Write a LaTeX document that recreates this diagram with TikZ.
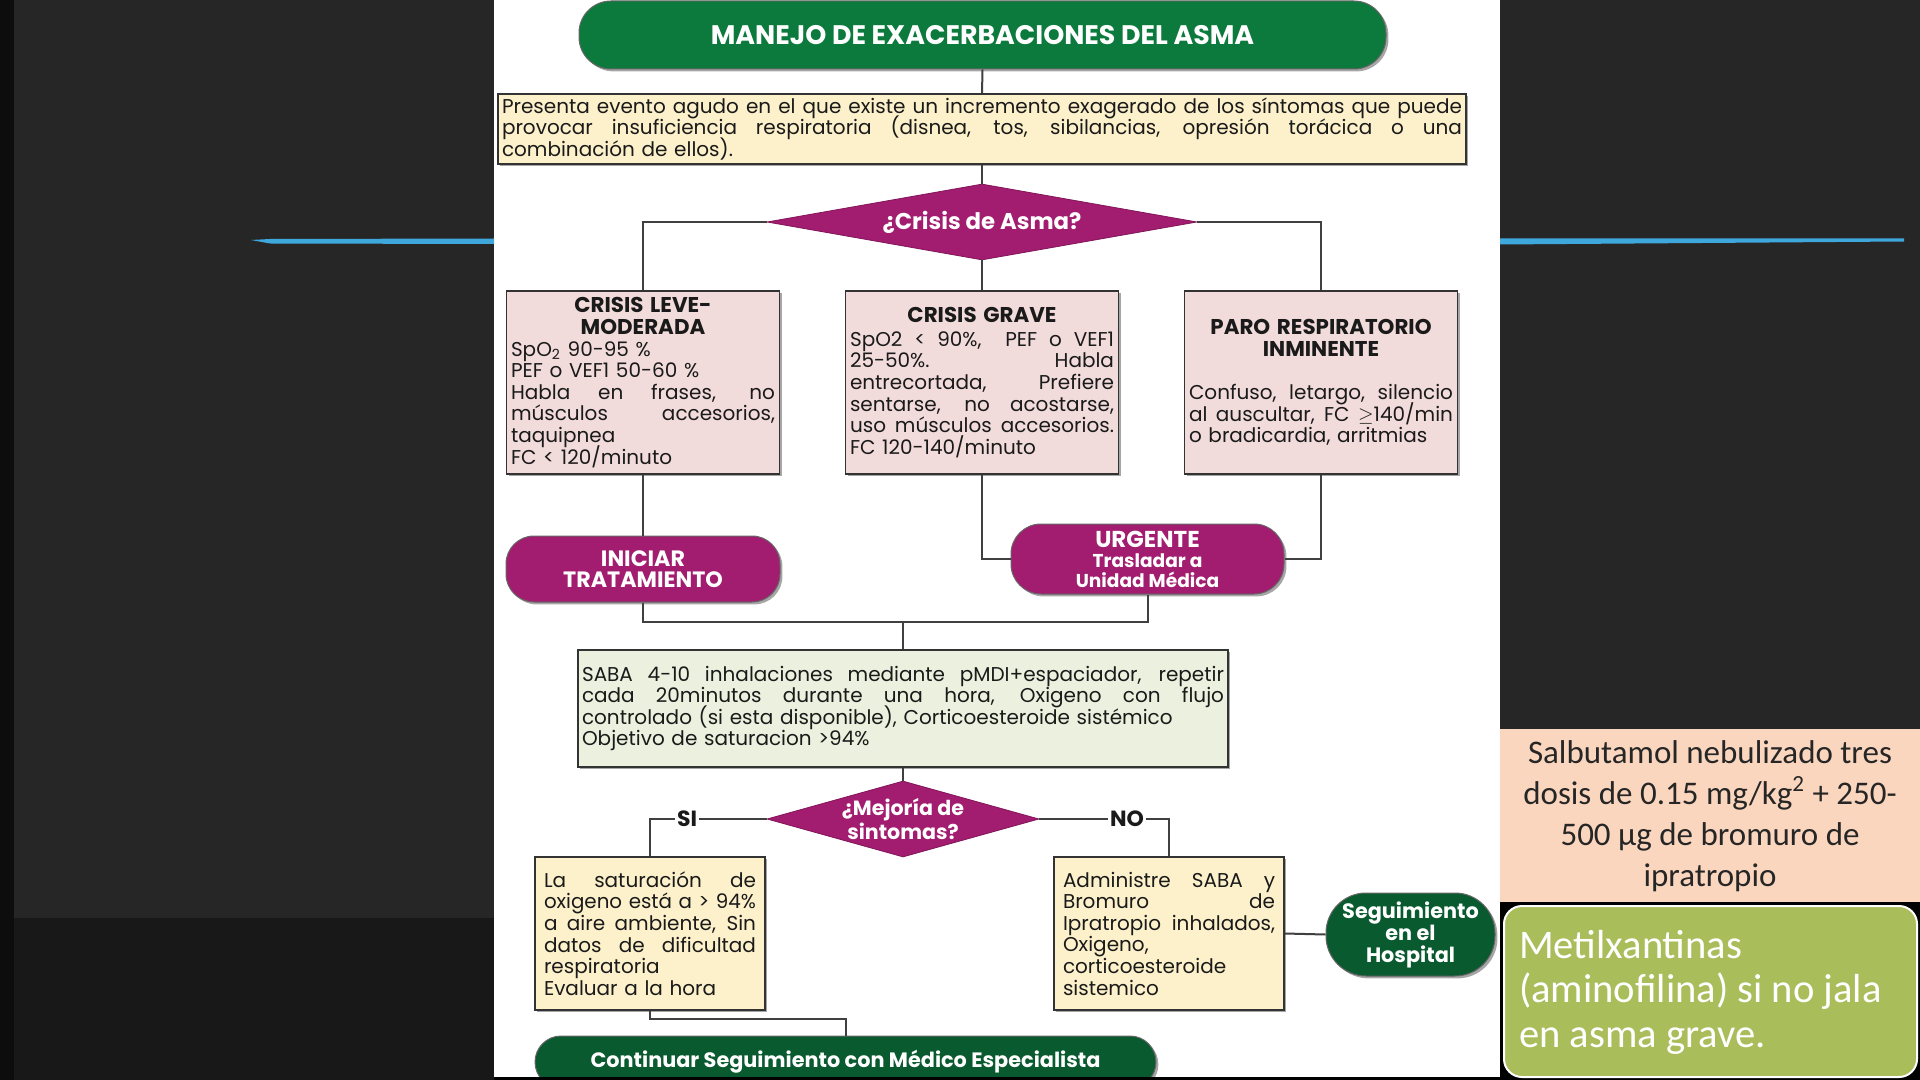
\documentclass[tikz,border=0pt]{standalone}
\usepackage{fontspec}
\setmainfont{Poppins}
\newfontfamily\carlito{Carlito}
\usepackage{graphicx}
\usetikzlibrary{shapes.geometric,shadows}
\definecolor{bgdark}{HTML}{262626}
\definecolor{bgdarker}{HTML}{181818}
\definecolor{gtitle}{HTML}{0B7A3C}
\definecolor{gdark}{HTML}{0A5A30}
\definecolor{purp}{HTML}{A21C6F}
\definecolor{pinkbox}{HTML}{F2DCDB}
\definecolor{creambox}{HTML}{FDF1CB}
\definecolor{sababox}{HTML}{EBF1DE}
\definecolor{salmon}{HTML}{FAD6BE}
\definecolor{olive}{HTML}{A9BD5B}
\definecolor{skyb}{HTML}{3EA8DC}
\definecolor{linec}{HTML}{404040}
\definecolor{txt}{HTML}{1A1A1A}
\newlength\jw
\newcommand\jl[1]{\setbox0\hbox{#1}\ifdim\wd0>\jw\leavevmode\resizebox{\jw}{\height}{#1}\else\leavevmode\hbox to\jw{\spaceskip=\fontdimen2\font plus 1fil\relax\xspaceskip=\spaceskip\relax #1}\fi}
\newcommand\ctl[1]{\leavevmode\hbox to\jw{\hfil#1\hfil}}
\newcommand\titf{\bfseries\fontsize{10.7}{10.8}\selectfont}
\newcommand\tightls{\lineskiplimit=-30pt\lineskip=0pt\relax}
\begin{document}
\begin{tikzpicture}[x=0.5pt,y=-0.5pt,
  conn/.style={draw=linec,line width=1pt},
  shad/.style={drop shadow={shadow xshift=1.2pt,shadow yshift=-1.2pt,opacity=0.35,fill=black}},
  boxb/.style={shad,rectangle,draw=black!80,line width=0.7pt,inner ysep=0pt,text=txt,align=left,font=\fontsize{10}{10.8}\selectfont\tightls},
  pinkb/.style={boxb,fill=pinkbox,text width=132pt,inner xsep=2.3pt,minimum height=91.5pt,execute at begin node={\setlength\jw{132pt}\tightls}},
  introb/.style={boxb,fill=creambox,text width=480pt,inner xsep=2pt,minimum height=35pt,execute at begin node={\setlength\jw{480pt}\tightls}},
  sabab/.style={boxb,fill=sababox,text width=321pt,inner xsep=2pt,minimum height=58.5pt,execute at begin node={\setlength\jw{321pt}\tightls}},
  smallb/.style={boxb,fill=creambox,text width=106pt,inner xsep=4.5pt,minimum height=76.5pt,execute at begin node={\setlength\jw{106pt}\tightls}},
  pillb/.style={shad,rectangle,draw=black!60,line width=0.5pt,text=white,align=center,inner sep=0pt},
  diab/.style={diamond,fill=purp,draw=purp!80!black,line width=0.4pt,inner sep=0pt},
  dtext/.style={text=white,align=center,font=\bfseries},
  lab/.style={fill=white,inner sep=1pt,font=\bfseries\fontsize{11}{12}\selectfont,text=txt}
]
\useasboundingbox (0,0) rectangle (1920,1080);
% background
\fill[bgdark] (0,0) rectangle (1920,1080);
\fill[bgdarker] (0,918) rectangle (494,1080);
\fill[black!95] (0,0) rectangle (14,1080);
\fill[white] (494,0) rectangle (1500,1077);
\fill[salmon] (1500,729) rectangle (1920,902);
\fill[black] (1500,902) rectangle (1920,1080);
\filldraw[fill=olive,draw=white,line width=1pt,rounded corners=9pt] (1504,906) rectangle (1917,1077);
\fill[skyb] (251,240) -- (270,239) -- (494,238.5) -- (494,244) -- (270,243.5) -- cycle;
\fill[skyb] (1500,238.5) -- (1904,238.5) -- (1904,241.5) -- (1500,244.5) -- cycle;

% nodes
\node[pillb,fill=gtitle,minimum width=403.5pt,minimum height=34pt,rounded corners=16pt,font=\bfseries\fontsize{13.4}{15}\selectfont] (t) at (982.5,35) {MANEJO DE EXACERBACIONES DEL ASMA};

\node[introb] (intro) at (982,129) {%
\jl{Presenta evento agudo en el que existe un incremento exagerado de los síntomas que puede}\\
\jl{provocar insuficiencia respiratoria (disnea, tos, sibilancias, opresión torácica o una}\\
combinación de ellos).};

\node[diab,minimum width=215pt,minimum height=38pt,shape aspect=5.66] (d1) at (982,222) {};
\node[dtext,font=\bfseries\fontsize{11.4}{12}\selectfont] (d1t) at (d1) {¿Crisis de Asma?};

\node[pinkb] (b1) at (643,382.5) {%
\ctl{\titf CRISIS LEVE-}\\
\ctl{\titf MODERADA}\\
SpO\textsubscript{2} 90-95 \%\\
PEF o VEF1 50-60 \%\\
\jl{Habla en frases, no}\\
\jl{músculos accesorios,}\\
taquipnea\\
FC < 120/minuto};

\node[pinkb] (b2) at (982,382.5) {%
\ctl{\titf CRISIS GRAVE}\\[1pt]
\jl{SpO2 < 90\%,\ \ PEF o VEF1}\\
\jl{25-50\%. Habla}\\
\jl{entrecortada, Prefiere}\\
\jl{sentarse, no acostarse,}\\
\jl{uso músculos accesorios.}\\
FC 120-140/minuto};

\node[pinkb] (b3) at (1321,382.5) {%
\ctl{\titf PARO RESPIRATORIO}\\
\ctl{\titf INMINENTE}\\[10.8pt]
\jl{Confuso, letargo, silencio}\\
\jl{al auscultar, FC $\geq$140/min}\\
o bradicardia, arritmias};

\node[pillb,fill=purp,minimum width=137pt,minimum height=33pt,rounded corners=14pt,font=\bfseries\fontsize{11.1}{10.5}\selectfont] (p1) at (643,569) {INICIAR\\TRATAMIENTO};

\node[pillb,fill=purp,minimum width=136.5pt,minimum height=35pt,rounded corners=15pt,font=\bfseries\fontsize{9.3}{10}\selectfont] (p2) at (1147.5,559) {{\fontsize{11.5}{10}\selectfont URGENTE}\\Trasladar a\\Unidad Médica};

\coordinate (j) at (903,622);

\node[sabab] (saba) at (903,708.5) {%
\jl{SABA 4-10 inhalaciones mediante pMDI+espaciador, repetir}\\
\jl{cada 20minutos durante una hora, Oxigeno con flujo}\\
controlado (si esta disponible), Corticoesteroide sistémico\\
Objetivo de saturacion >94\%};

\node[diab,minimum width=136pt,minimum height=38pt,shape aspect=3.58] (d2) at (903,819) {};
\node[dtext,font=\bfseries\fontsize{10.3}{10.5}\selectfont] (d2t) at (d2) {¿Mejoría de\\sintomas?};

\node[smallb] (si) at (650,933.5) {%
\jl{La saturación de}\\
\jl{oxigeno está a > 94\%}\\
\jl{a aire ambiente, Sin}\\
\jl{datos de dificultad}\\
respiratoria\\
Evaluar a la hora};

\node[smallb] (no) at (1169,933.5) {%
\jl{Administre SABA y}\\
\jl{Bromuro de}\\
\jl{Ipratropio inhalados,}\\
Oxigeno,\\
corticoesteroide\\
sistemico};

\node[pillb,fill=gdark,minimum width=84.5pt,minimum height=41.5pt,rounded corners=20pt,font=\bfseries\fontsize{10.4}{11}\selectfont] (seg) at (1410.5,934.5) {Seguimiento\\en el\\Hospital};

\coordinate (k) at (845.5,1019);
\node[pillb,fill=gdark,minimum width=310.5pt,minimum height=26pt,rounded corners=13pt,font=\bfseries\fontsize{10.4}{11}\selectfont] (bot) at (845.5,1062) {Continuar Seguimiento con Médico Especialista};

% connectors
\draw[conn] (t.south) -- (intro.north);
\draw[conn] (intro.south) -- (d1.north);
\draw[conn] (d1.west) -| (b1.north);
\draw[conn] (d1.east) -| (b3.north);
\draw[conn] (d1.south) -- (b2.north);
\draw[conn] (b1.south) -- (p1.north);
\draw[conn] (b2.south) |- (p2.west);
\draw[conn] (b3.south) |- (p2.east);
\draw[conn] (p1.south) |- (j) -| (p2.south);
\draw[conn] (j) -- (saba.north);
\draw[conn] (saba.south) -- (d2.north);
\draw[conn] (d2.west) -| (si.north);
\draw[conn] (d2.east) -| (no.north);
\node[lab] (lsi) at (687,819) {SI};
\node[lab] (lno) at (1127,819) {NO};
\draw[conn] (no.east) -- (seg.west);
\draw[conn] (si.south) |- (k) -- (bot.north);

\fill[black] (494,1077) rectangle (1500,1080);

% right panel texts
\node[align=center,text=black!85,font=\carlito\fontsize{16.5}{20.5}\selectfont] (salb) at (1710,816) {Salbutamol nebulizado tres\\dosis de 0.15 mg/kg\textsuperscript{2} + 250-\\500 µg de bromuro de\\ipratropio};
\node[anchor=west,align=left,text=white,font=\carlito\fontsize{20.3}{22.3}\selectfont] (metil) at (1512,992) {Metilxantinas\\(aminofilina) si no jala\\en asma grave.};
\end{tikzpicture}
\end{document}
